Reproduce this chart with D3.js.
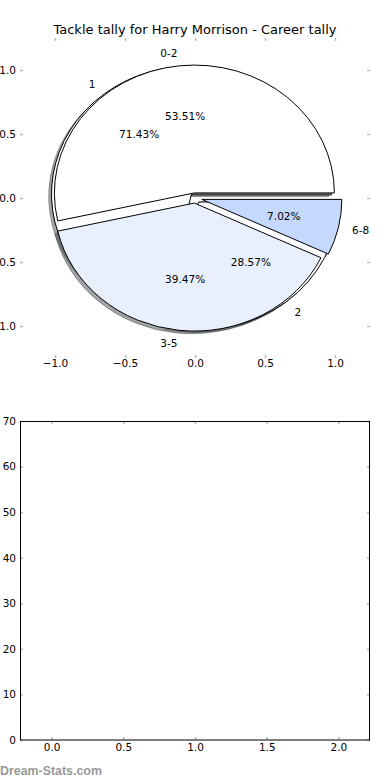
<!DOCTYPE html>
<html>
<head>
    <meta charset="utf-8">
    <title>Tackle tally for Harry Morrison - Career tally</title>
    <script src="https://d3js.org/d3.v7.min.js"></script>
    <style>
        body { margin: 0; background: #fff; }
        svg text { font-family: "DejaVu Sans", sans-serif; fill: #000; }
        .tick line { stroke: #b8b8b8; stroke-width: 1.5; }
    </style>
</head>
<body>
    <div id="chart"></div>
    <script>
        // chart values
        let titleText = "Tackle tally for Harry Morrison - Career tally";
        let rangeLabels = ["0-2", "3-5", "6-8"];
        let rangePct = [53.51, 39.47, 7.02];
        let countLabels = ["1", "2"];
        let countPct = [71.43, 28.57];
        let pieTicks = [-1.0, -0.5, 0.0, 0.5, 1.0];
        let lowerXTicks = [0.0, 0.5, 1.0, 1.5, 2.0];
        let lowerYTicks = [0, 10, 20, 30, 40, 50, 60, 70];

        // styles
        let rangeColors = ["#ffffff", "#e9f0fd", "#c5d8fe"];
        let countColors = ["#ffffff", "#ffffff"];
        let rangeExplode = [0.04, 0.04, 0.05];
        let countExplode = [0.04, 0.04];
        let fontSize = 10.5;

        let W = 390, H = 780;
        let svg = d3.select("#chart").append("svg")
            .attr("width", W)
            .attr("height", H);

        // ---------- pie axes ----------
        let px = d3.scaleLinear().domain([-1.25, 1.25]).range([20, 370]);
        let py = d3.scaleLinear().domain([-1.25, 1.25]).range([358, 38]);

        let pie = d3.pie().sort(null).value(d => d)
            .startAngle(Math.PI / 2)
            .endAngle(Math.PI / 2 + 2 * Math.PI);
        let arc = d3.arc().innerRadius(0).outerRadius(1);

        // turn d3 pie slices into matplotlib-like wedges (angle from east, ccw)
        function wedges(values, labels, colors, explode) {
            return pie(values).map((s, i) => {
                let mid = (s.startAngle + s.endAngle) / 2 - Math.PI / 2;
                return {
                    slice: s,
                    label: labels[i],
                    pct: values[i],
                    color: colors[i],
                    ex: explode[i] * Math.cos(mid),
                    ey: explode[i] * Math.sin(mid),
                    mid: mid
                };
            });
        }

        let countW = wedges(countPct, countLabels, countColors, countExplode);
        let rangeW = wedges(rangePct, rangeLabels, rangeColors, rangeExplode);

        let sx = px(1) - px(0), sy = py(1) - py(0);

        function shade(c) {
            let r = d3.rgb(c);
            return d3.rgb(r.r * 0.3, r.g * 0.3, r.b * 0.3).toString();
        }

        let pieG = svg.append("g");

        // shadows first, behind every wedge
        countW.concat(rangeW).forEach(w => {
            pieG.append("path")
                .attr("d", arc(w.slice))
                .attr("transform", "translate(" + px(w.ex - 0.02) + "," + py(w.ey - 0.02) + ") scale(" + sx + "," + sy + ")")
                .attr("vector-effect", "non-scaling-stroke")
                .attr("fill", shade(w.color))
                .attr("fill-opacity", 0.5)
                .attr("stroke", shade(w.color))
                .attr("stroke-opacity", 0.5)
                .attr("stroke-width", 1);
        });

        countW.concat(rangeW).forEach(w => {
            pieG.append("path")
                .attr("d", arc(w.slice))
                .attr("transform", "translate(" + px(w.ex) + "," + py(w.ey) + ") scale(" + sx + "," + sy + ")")
                .attr("vector-effect", "non-scaling-stroke")
                .attr("fill", w.color)
                .attr("stroke", "#000")
                .attr("stroke-width", 1);
        });

        // labels and percentages
        countW.concat(rangeW).forEach(w => {
            let xt = w.ex + 1.1 * Math.cos(w.mid);
            let yt = w.ey + 1.1 * Math.sin(w.mid);
            pieG.append("text")
                .attr("x", px(xt))
                .attr("y", py(yt))
                .attr("dy", "0.36em")
                .attr("text-anchor", xt > 0 ? "start" : "end")
                .attr("font-size", fontSize)
                .text(w.label);
            pieG.append("text")
                .attr("x", px(w.ex + 0.6 * Math.cos(w.mid)))
                .attr("y", py(w.ey + 0.6 * Math.sin(w.mid)))
                .attr("dy", "0.36em")
                .attr("text-anchor", "middle")
                .attr("font-size", fontSize)
                .text(d3.format(".2f")(w.pct) + "%");
        });

        let fmt1 = d => d3.format(".1f")(d).replace("-", "\u2212");

        svg.append("g")
            .attr("transform", "translate(0," + py(-1.25) + ")")
            .call(d3.axisBottom(px).tickValues(pieTicks).tickSize(-3).tickPadding(2).tickFormat(fmt1));
        svg.append("g")
            .attr("transform", "translate(0," + py(1.25) + ")")
            .call(d3.axisTop(px).tickValues(pieTicks).tickSize(-3).tickFormat(""));
        svg.append("g")
            .attr("transform", "translate(" + px(-1.25) + ",0)")
            .call(d3.axisLeft(py).tickValues(pieTicks).tickSize(-3).tickPadding(4).tickFormat(fmt1));
        svg.append("g")
            .attr("transform", "translate(" + px(1.25) + ",0)")
            .call(d3.axisRight(py).tickValues(pieTicks).tickSize(-3).tickFormat(""));

        svg.append("text")
            .attr("x", (px(-1.25) + px(1.25)) / 2)
            .attr("y", 34)
            .attr("text-anchor", "middle")
            .attr("font-size", 13)
            .text(titleText);

        // ---------- empty lower axes ----------
        let bx = d3.scaleLinear().domain([-0.22, 2.22]).range([20, 370]);
        let by = d3.scaleLinear().domain([0, 70]).range([740, 421]);

        svg.append("g")
            .attr("transform", "translate(0,740)")
            .call(d3.axisBottom(bx).tickValues(lowerXTicks).tickSize(-3).tickPadding(4).tickFormat(d3.format(".1f")));
        svg.append("g")
            .attr("transform", "translate(0,421)")
            .call(d3.axisTop(bx).tickValues(lowerXTicks).tickSize(-3).tickFormat(""));
        svg.append("g")
            .attr("transform", "translate(20,0)")
            .call(d3.axisLeft(by).tickValues(lowerYTicks).tickSize(-3).tickPadding(4));
        svg.append("g")
            .attr("transform", "translate(370,0)")
            .call(d3.axisRight(by).tickValues(lowerYTicks).tickSize(-3).tickFormat(""));

        svg.selectAll(".domain").remove();
        svg.selectAll(".tick text").attr("font-size", fontSize);

        svg.append("rect")
            .attr("x", 20.5)
            .attr("y", 421.5)
            .attr("width", 349)
            .attr("height", 318.5)
            .attr("fill", "none")
            .attr("stroke", "#000")
            .attr("stroke-width", 1);

        // watermark
        svg.append("text")
            .attr("x", 0)
            .attr("y", 774.5)
            .style("font-family", "'Liberation Sans', Arial, sans-serif")
            .style("font-weight", "bold")
            .style("font-size", "12.4px")
            .style("fill", "#999")
            .text("Dream-Stats.com");
    </script>
</body>
</html>
